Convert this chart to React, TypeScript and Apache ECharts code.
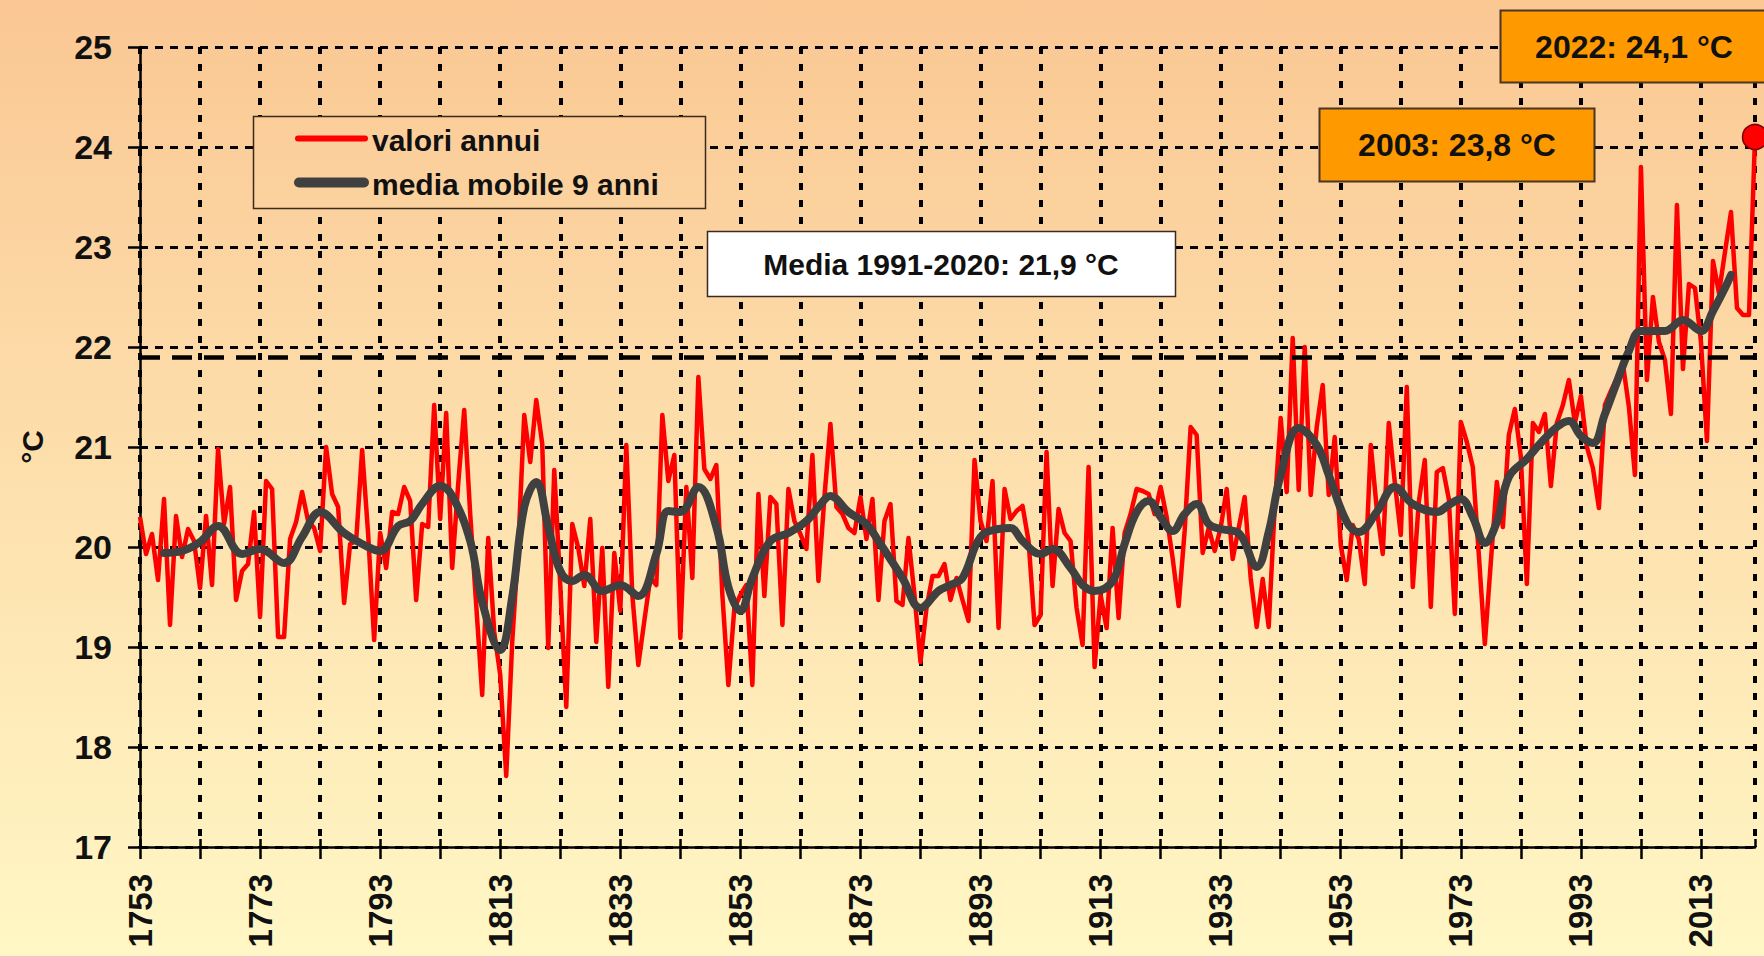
import React, { useEffect, useRef } from "react";
import * as echarts from "echarts";

const startYear = 1753;

// annual values 1753-2022 (°C)
const annual = [
  // 1753-1759
  20.3, 19.93, 20.13, 19.67, 20.48, 19.22, 20.31,
  // 1760s
  19.9, 20.18, 20.06, 19.59, 20.31, 19.62, 20.98, 20.23, 20.6, 19.47,
  // 1770s
  19.76, 19.83, 20.35, 19.3, 20.66, 20.58, 19.1, 19.1, 20.08, 20.25,
  // 1780s
  20.55, 20.26, 20.19, 19.96, 21.0, 20.53, 20.4, 19.44, 20.03, 20.06,
  // 1790s
  20.97, 20.13, 19.07, 20.14, 19.79, 20.35, 20.33, 20.6, 20.46, 19.47,
  // 1800s
  20.23, 20.2, 21.42, 20.28, 21.34, 19.79, 20.63, 21.37, 20.33, 19.42,
  // 1810s
  18.52, 20.09, 19.15, 18.72, 17.71, 19.05, 19.99, 21.32, 20.85, 21.47,
  // 1820s
  21.03, 18.99, 20.77, 19.62, 18.4, 20.23, 19.99, 19.61, 20.28, 19.05,
  // 1830s
  19.99, 18.6, 19.94, 19.36, 21.02, 19.52, 18.82, 19.26, 19.69, 19.62,
  // 1840s
  21.32, 20.66, 20.92, 19.09, 20.6, 19.69, 21.7, 20.78, 20.68, 20.82,
  // 1850s
  19.52, 18.62, 19.39, 19.52, 19.62, 18.62, 20.53, 19.51, 20.5, 20.43,
  // 1860s
  19.22, 20.58, 20.26, 20.13, 19.98, 20.92, 19.66, 20.5, 21.23, 20.4,
  // 1870s
  20.33, 20.19, 20.14, 20.5, 20.08, 20.48, 19.47, 20.26, 20.43, 19.46,
  // 1880s
  19.42, 20.09, 19.52, 18.85, 19.39, 19.71, 19.71, 19.83, 19.47, 19.69,
  // 1890s
  19.47, 19.26, 20.87, 20.26, 20.06, 20.66, 19.19, 20.58, 20.28, 20.36,
  // 1900s
  20.41, 20.06, 19.22, 19.32, 20.95, 19.61, 20.38, 20.14, 20.06, 19.39,
  // 1910s
  19.02, 20.8, 18.8, 19.52, 19.19, 20.19, 19.29, 20.14, 20.33, 20.58,
  // 1920s
  20.56, 20.53, 20.33, 20.6, 20.3, 19.89, 19.41, 20.16, 21.2, 21.12,
  // 1930s
  19.94, 20.19, 19.96, 20.19, 20.58, 19.88, 20.19, 20.5, 19.69, 19.2,
  // 1940s
  19.68, 19.2, 20.4, 21.29, 20.55, 22.09, 20.57, 22.0, 20.52, 21.2,
  // 1950s
  21.62, 20.52, 21.1, 20.02, 19.67, 20.22, 20.08, 19.63, 21.02, 20.38,
  // 1960s
  19.93, 21.24, 20.65, 20.12, 21.6, 19.6, 20.45, 20.87, 19.4, 20.75,
  // 1970s
  20.79, 20.48, 19.33, 21.25, 21.05, 20.8, 19.92, 19.03, 19.85, 20.65,
  // 1980s
  20.2, 21.12, 21.38, 20.9, 19.63, 21.24, 21.15, 21.33, 20.61, 21.24,
  // 1990s
  21.42, 21.67, 21.24, 21.51, 21.0, 20.79, 20.39, 21.42, 21.56, 21.69,
  // 2000s
  21.83, 21.4, 20.72, 23.8, 21.67, 22.5, 22.05, 21.87, 21.33, 23.42,
  // 2010s
  21.78, 22.63, 22.59, 22.05, 21.06, 22.86, 22.54, 22.95, 23.35, 22.39,
  // 2020-2022
  22.32, 22.32, 24.1,
];

// 9-year moving average
const maYears = [
  1757, 1760, 1763, 1766, 1770, 1773, 1777, 1780, 1783, 1787, 1790, 1793, 1796, 1798,
  1800, 1803, 1805, 1808, 1810, 1813, 1815, 1817, 1819, 1821, 1823, 1825, 1827, 1830,
  1833, 1836, 1839, 1841, 1843, 1846, 1849, 1851, 1853, 1855, 1858, 1861, 1864, 1866,
  1868, 1871, 1874, 1876, 1880, 1883, 1886, 1888, 1890, 1893, 1896, 1898, 1900, 1903,
  1905, 1908, 1910, 1912, 1915, 1917, 1919, 1921, 1923, 1925, 1927, 1929, 1931, 1933,
  1936, 1939, 1941, 1943, 1946, 1949, 1951, 1954, 1956, 1959, 1962, 1965, 1969, 1971,
  1973, 1975, 1977, 1979, 1981, 1984, 1986, 1989, 1991, 1993, 1995, 1997, 1999, 2001,
  2003, 2007, 2010, 2013, 2015, 2017, 2018,
];
const maValues = [
  19.94, 19.96, 20.05, 20.21, 19.93, 19.98, 19.84, 20.1, 20.35, 20.14, 20.03, 19.96, 20.21, 20.26,
  20.43, 20.61, 20.51, 20.06, 19.45, 18.97, 19.5, 20.4, 20.65, 20.2, 19.76, 19.66, 19.72, 19.56,
  19.62, 19.51, 19.93, 20.36, 20.35, 20.6, 20.2, 19.6, 19.36, 19.69, 20.06, 20.14, 20.26, 20.4,
  20.51, 20.35, 20.23, 20.06, 19.69, 19.39, 19.56, 19.62, 19.69, 20.1, 20.18, 20.19, 20.06, 19.93,
  19.98, 19.79, 19.62, 19.56, 19.66, 20.03, 20.35, 20.46, 20.3, 20.16, 20.33, 20.43, 20.23, 20.18,
  20.14, 19.8, 20.15, 20.72, 21.19, 21.02, 20.72, 20.25, 20.15, 20.35, 20.6, 20.43, 20.35, 20.42,
  20.48, 20.3, 20.04, 20.25, 20.7, 20.88, 21.02, 21.2, 21.26, 21.11, 21.04, 21.33, 21.65, 21.96,
  22.16, 22.16, 22.27, 22.16, 22.36, 22.59, 22.72,
];

const meanValue = 21.9;
const xLabelYears = [1753, 1773, 1793, 1813, 1833, 1853, 1873, 1893, 1913, 1933, 1953, 1973, 1993, 2013];
const yMin = 17;
const yMax = 25;
const yStep = 1;
const xStep = 10;

const legendNames = ["valori annui", "media mobile 9 anni"];
const noteLast = "2022: 24,1 °C";
const note2003 = "2003: 23,8 °C";
const noteMean = "Media 1991-2020: 21,9 °C";

const FONT = "'Liberation Sans', Arial, sans-serif";
const RED = "#FF0000";
const GREY = "#404040";

const bgStops = [
  { offset: 0, color: "#FAC793" },
  { offset: 0.5, color: "#FDE0AD" },
  { offset: 1, color: "#FFF7C5" },
];

export default function App() {
  const ref = useRef<HTMLDivElement>(null);

  useEffect(() => {
    if (!ref.current) return;
    const chart = echarts.init(ref.current, undefined, { renderer: "svg" });
    const lastIdx = annual.length - 1;
    const axisLineStyle = { color: "#000", width: 2.5 };

    const option: any = {
      animation: false,
      backgroundColor: { type: "linear", x: 0, y: 0, x2: 0, y2: 1, colorStops: bgStops },
      grid: { left: 140, right: 9, top: 47, bottom: 109, containLabel: false, outerBoundsMode: "none" },
      xAxis: [
        {
          type: "value",
          min: 0,
          max: lastIdx,
          interval: xStep,
          axisLine: { show: true, onZero: false, lineStyle: axisLineStyle },
          axisTick: { show: true, length: 12, lineStyle: axisLineStyle },
          axisLabel: {
            rotate: 90,
            margin: 27,
            fontSize: 33,
            fontWeight: "bold",
            fontFamily: FONT,
            color: "#111",
            showMaxLabel: false,
            formatter: (v: number) => (xLabelYears.includes(v + startYear) ? String(v + startYear) : ""),
          },
          splitLine: { show: true, lineStyle: { color: "#000", width: 4, type: [7, 10] } },
        },
        {
          type: "value",
          min: 0,
          max: lastIdx,
          interval: xStep,
          position: "bottom",
          axisLine: { show: false },
          axisTick: { show: true, inside: true, length: 8, lineStyle: axisLineStyle },
          axisLabel: { show: false },
          splitLine: { show: false },
        },
      ],
      yAxis: [
        {
          type: "value",
          min: yMin,
          max: yMax,
          interval: yStep,
          name: "°C",
          nameLocation: "middle",
          nameGap: 93,
          nameRotate: 90,
          nameTextStyle: { fontSize: 30, fontWeight: "bold", fontFamily: FONT, color: "#111" },
          axisLine: { show: true, onZero: false, lineStyle: axisLineStyle },
          axisTick: { show: true, length: 12, lineStyle: axisLineStyle },
          axisLabel: { margin: 28, fontSize: 34, fontWeight: "bold", fontFamily: FONT, color: "#111" },
          splitLine: { show: true, lineStyle: { color: "#000", width: 2.8, type: [8, 7] } },
        },
        {
          type: "value",
          min: yMin,
          max: yMax,
          interval: yStep,
          position: "left",
          axisLine: { show: false },
          axisTick: { show: true, inside: true, length: 5, lineStyle: axisLineStyle },
          axisLabel: { show: false },
          splitLine: { show: false },
        },
      ],
      series: [
        {
          type: "line",
          name: legendNames[0],
          data: annual.map((v, i) => [i, v]),
          symbol: "none",
          lineStyle: { color: RED, width: 4.5, join: "round" },
          z: 2,
          markLine: {
            silent: true,
            symbol: ["none", "none"],
            label: { show: false },
            emphasis: { disabled: true },
            lineStyle: { color: "#000", width: 4.5, type: [20, 12] },
            data: [{ yAxis: meanValue }],
          },
        },
        {
          type: "line",
          name: legendNames[1],
          data: maYears.map((y, i) => [y - startYear, maValues[i]]),
          symbol: "none",
          smooth: 0.4,
          lineStyle: { color: GREY, width: 8, cap: "round", join: "round" },
          z: 3,
        },
        {
          type: "scatter",
          data: [[lastIdx, annual[lastIdx]]],
          symbolSize: 25,
          clip: false,
          itemStyle: { color: RED, borderColor: "#7a0000", borderWidth: 1.5, opacity: 1 },
          z: 5,
        },
      ],
      graphic: [
        {
          type: "rect",
          z: 100,
          shape: { x: 253.5, y: 116.5, width: 452, height: 92 },
          style: {
            fill: { type: "linear", x: 0, y: 0, x2: 0, y2: 956, global: true, colorStops: bgStops },
            stroke: "#3d2a1e",
            lineWidth: 1.5,
          },
        },
        {
          type: "line",
          z: 101,
          shape: { x1: 298, y1: 138.5, x2: 365, y2: 138.5 },
          style: { stroke: RED, lineWidth: 6, lineCap: "round" },
        },
        {
          type: "line",
          z: 101,
          shape: { x1: 299, y1: 182.5, x2: 364, y2: 182.5 },
          style: { stroke: GREY, lineWidth: 10, lineCap: "round" },
        },
        {
          type: "text",
          z: 101,
          x: 372,
          y: 140,
          style: { text: legendNames[0], font: `bold 30px ${FONT}`, fill: "#111", align: "left", verticalAlign: "middle" },
        },
        {
          type: "text",
          z: 101,
          x: 372,
          y: 184,
          style: { text: legendNames[1], font: `bold 30px ${FONT}`, fill: "#111", align: "left", verticalAlign: "middle" },
        },
        {
          type: "rect",
          z: 100,
          shape: { x: 1500.5, y: 10.5, width: 275, height: 72 },
          style: { fill: "#FF9900", stroke: "#4d3526", lineWidth: 2 },
        },
        {
          type: "text",
          z: 101,
          x: 1634,
          y: 47,
          style: { text: noteLast, font: `bold 32px ${FONT}`, fill: "#111", align: "center", verticalAlign: "middle" },
        },
        {
          type: "rect",
          z: 100,
          shape: { x: 1319.5, y: 108.5, width: 275, height: 73 },
          style: { fill: "#FF9900", stroke: "#4d3526", lineWidth: 2 },
        },
        {
          type: "text",
          z: 101,
          x: 1457,
          y: 145,
          style: { text: note2003, font: `bold 32px ${FONT}`, fill: "#111", align: "center", verticalAlign: "middle" },
        },
        {
          type: "rect",
          z: 100,
          shape: { x: 707.5, y: 231.5, width: 468, height: 65 },
          style: { fill: "#FFFFFF", stroke: "#3d2a1e", lineWidth: 1.5 },
        },
        {
          type: "text",
          z: 101,
          x: 941,
          y: 264,
          style: { text: noteMean, font: `bold 30px ${FONT}`, fill: "#111", align: "center", verticalAlign: "middle" },
        },
      ],
    };

    chart.setOption(option);
    return () => chart.dispose();
  }, []);

  return (
    <div
      ref={ref}
      style={{ position: "fixed", left: 0, top: 0, width: 1764, height: 956 }}
    />
  );
}
